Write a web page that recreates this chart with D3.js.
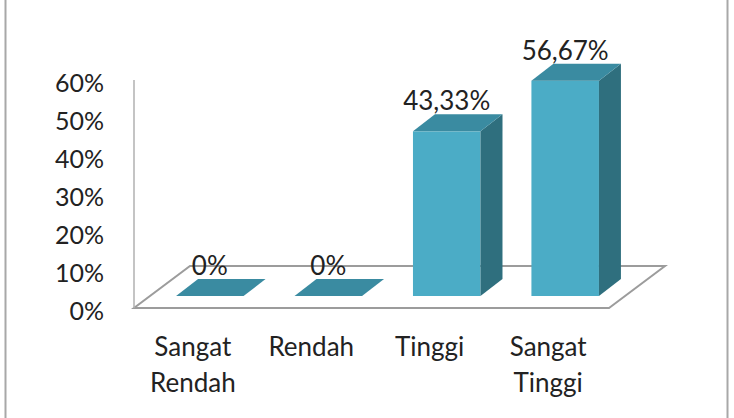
<!DOCTYPE html>
<html>
<head>
<meta charset="utf-8">
<script src="https://cdn.jsdelivr.net/npm/d3@7"></script>
<style>
  body { margin: 0; background: #fff; }
  text { font-family: Lato, "Open Sans", sans-serif; fill: #222; }
</style>
</head>
<body>
<div id="chart"></div>
<script>
// données
var categories = ["Sangat Rendah", "Rendah", "Tinggi", "Sangat Tinggi"];
var valeurs = [0, 0, 0.4333, 0.5667];
var etiquettes = ["0%", "0%", "43,33%", "56,67%"];
var ticks = [0, 0.1, 0.2, 0.3, 0.4, 0.5, 0.6];

var width = 734, height = 418;

const svg = d3.select("#chart")
    .append("svg")
    .attr("width", width)
    .attr("height", height);

// cadre
svg.append("rect")
    .attr("x", 5.5).attr("y", -5)
    .attr("width", 722).attr("height", height + 10)
    .attr("fill", "none")
    .attr("stroke", "#a8a8a8")
    .attr("stroke-width", 2);

// échelles
var x = d3.scaleBand()
    .domain(categories)
    .range([134, 609])
    .paddingInner(0.43)
    .paddingOuter(0.22);

var y = d3.scaleLinear()
    .domain([0, 0.6])
    .range([308, 80]);

// profondeur (perspective)
var floorDx = 56, floorDy = -42;
var barOffX = 16, barOffY = -12;
var barDx = 22, barDy = -17;

// sol
var x0 = x.range()[0], x1 = x.range()[1], yb = y(0);
svg.append("path")
    .attr("d", "M" + x0 + "," + yb + "L" + x1 + "," + yb +
        "L" + (x1 + floorDx) + "," + (yb + floorDy) +
        "L" + (x0 + floorDx) + "," + (yb + floorDy) + "Z")
    .attr("fill", "none")
    .attr("stroke", "#9c9c9c")
    .attr("stroke-width", 2);

// axe vertical
svg.append("line")
    .attr("x1", x0).attr("x2", x0)
    .attr("y1", y(0.6)).attr("y2", yb)
    .attr("stroke", "#b0b0b0")
    .attr("stroke-width", 1.5);

// labels axe y
svg.append("g")
    .selectAll("text")
    .data(ticks)
    .join("text")
    .attr("x", 104)
    .attr("y", d => y(d) + 2)
    .attr("text-anchor", "end")
    .attr("dominant-baseline", "central")
    .attr("font-size", 25)
    .text(d => d3.format(".0%")(d));

// barres
var bars = svg.append("g")
    .selectAll("g")
    .data(categories)
    .join("g");

bars.each(function (c, i) {
    var g = d3.select(this);
    var bx = x(c) + barOffX;
    var bw = x.bandwidth();
    var top = y(valeurs[i]) + barOffY;
    var bot = y(0) + barOffY;

    // face avant
    g.append("rect")
        .attr("x", bx).attr("y", top)
        .attr("width", bw).attr("height", bot - top)
        .attr("fill", "#4bacc6");

    // côté
    g.append("path")
        .attr("d", "M" + (bx + bw) + "," + top +
            "L" + (bx + bw + barDx) + "," + (top + barDy) +
            "L" + (bx + bw + barDx) + "," + (bot + barDy) +
            "L" + (bx + bw) + "," + bot + "Z")
        .attr("fill", "#2f6f7e");

    // dessus
    g.append("path")
        .attr("d", "M" + bx + "," + top +
            "L" + (bx + barDx) + "," + (top + barDy) +
            "L" + (bx + bw + barDx) + "," + (top + barDy) +
            "L" + (bx + bw) + "," + top + "Z")
        .attr("fill", "#3a8ba1");

    // étiquette valeur
    g.append("text")
        .attr("x", bx + bw / 2)
        .attr("y", top - 21)
        .attr("text-anchor", "middle")
        .attr("font-size", 26)
        .text(etiquettes[i]);
});

// labels catégories
svg.append("g")
    .selectAll("text")
    .data(categories)
    .join("text")
    .attr("x", d => x(d) + x.bandwidth() / 2 - 1)
    .attr("y", 356)
    .attr("text-anchor", "middle")
    .attr("font-size", 26)
    .each(function (d) {
        var mots = d.split(" ");
        var t = d3.select(this);
        mots.forEach((m, k) => {
            t.append("tspan")
                .attr("x", x(d) + x.bandwidth() / 2 - 1)
                .attr("dy", k === 0 ? 0 : 36)
                .text(m);
        });
    });
</script>
</body>
</html>
